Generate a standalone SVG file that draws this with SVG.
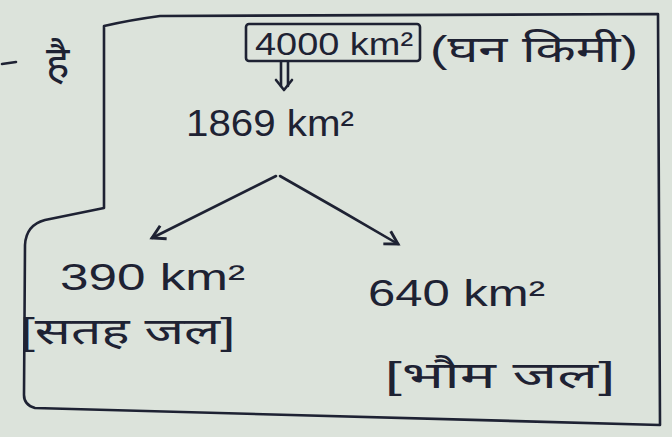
<svg xmlns="http://www.w3.org/2000/svg" width="672" height="437" viewBox="0 0 672 437">
<defs>
<style>
.ink{fill:none;stroke:#1e2233;stroke-width:2.6;stroke-linecap:round;stroke-linejoin:round}
.t{fill:#1e2233;font-family:"Liberation Sans","Noto Sans",sans-serif}
.big{font-size:36px}
.mid{font-size:36px}
</style>
<marker id="ah" viewBox="0 0 10 10" refX="8" refY="5" markerWidth="7" markerHeight="7" orient="auto-start-reverse">
<path d="M1,1 L8,5 L1,9" fill="none" stroke="#1e2233" stroke-width="1.6"/>
</marker>
</defs>
<rect width="672" height="437" fill="#dce3db"/>
<g id="frame">
<path class="ink" d="M104,205 L104,26 Q130,20 160,16 L658,14 L660,425 L35,408 Q24,405 24,395 L25,245 Q26,225 45,220 L104,208 Z"/>
</g>
<g id="left-note">
<path class="ink" d="M2,64 L16,62"/>
<text class="t" style="font-size:44px" x="46" y="78">है</text>
</g>
<g id="n4000">
<rect class="ink" x="246" y="24" width="174" height="37" rx="3"/>
<text class="t" style="font-size:32px" x="255" y="55" textLength="158" lengthAdjust="spacingAndGlyphs">4000 km²</text>
<text class="t mid" x="430" y="62" textLength="208" lengthAdjust="spacingAndGlyphs">(घन किमी)</text>
</g>
<g id="n1869">
<text class="t big" x="186" y="136" textLength="168" lengthAdjust="spacingAndGlyphs">1869 km²</text>
</g>
<g id="n390">
<text class="t big" x="60" y="290" textLength="185" lengthAdjust="spacingAndGlyphs">390 km²</text>
<text class="t mid" x="20" y="344" textLength="215" lengthAdjust="spacingAndGlyphs">[सतह जल]</text>
</g>
<g id="n640">
<text class="t big" x="368" y="306" textLength="177" lengthAdjust="spacingAndGlyphs">640 km²</text>
<text class="t mid" x="385" y="388" textLength="230" lengthAdjust="spacingAndGlyphs">[भौम जल]</text>
</g>
<g id="connectors">
<path class="ink" d="M281,62 L281,86 M288,62 L288,86"/>
<path class="ink" d="M276,80 L284,90 L292,80"/>
<path class="ink" d="M276,176 L152,238" marker-end="url(#ah)"/>
<path class="ink" d="M280,176 Q340,210 398,244" marker-end="url(#ah)"/>
</g>
</svg>
